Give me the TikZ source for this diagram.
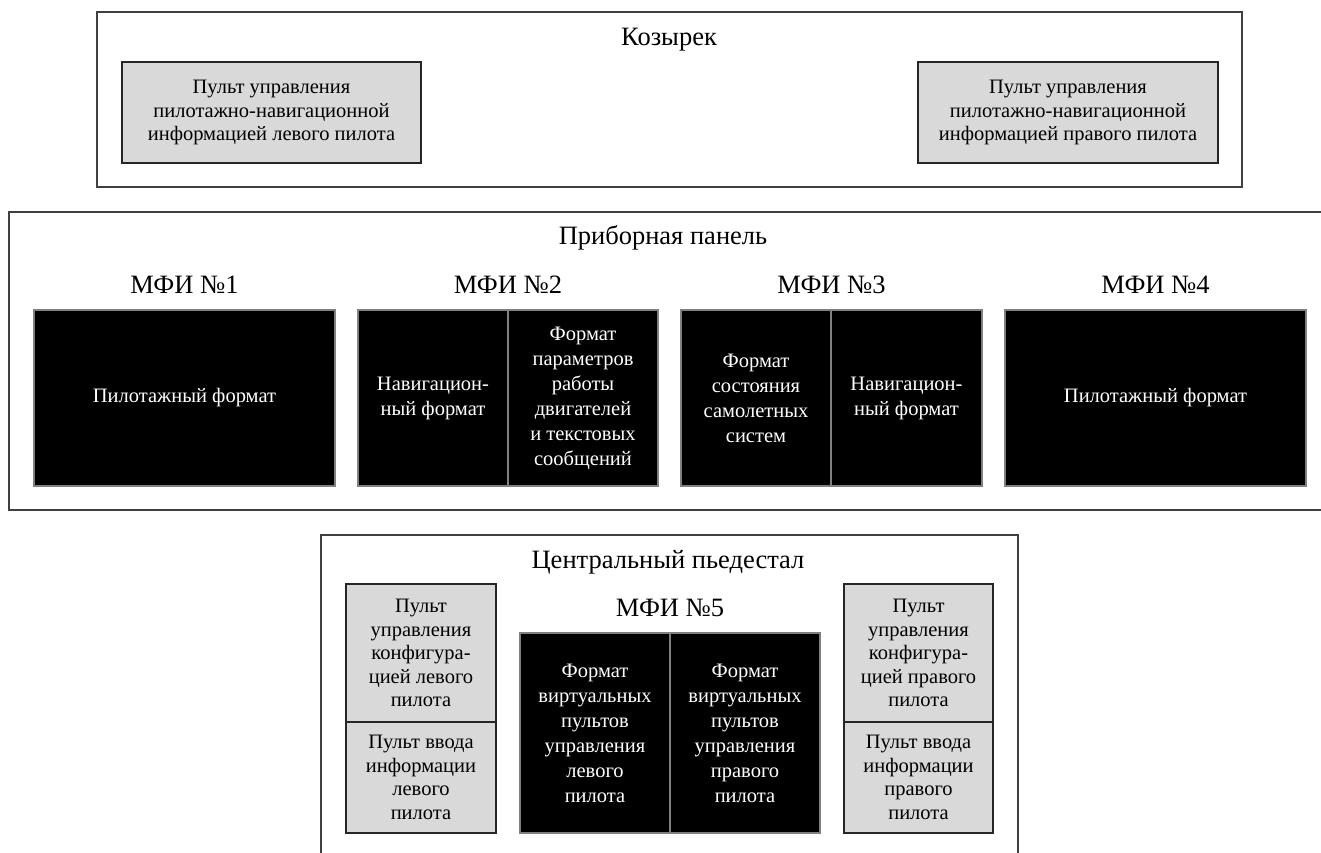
\documentclass[tikz,border=0pt]{standalone}
\usepackage{fontspec}
\setmainfont{Liberation Serif}
\begin{document}
\begin{tikzpicture}[x=1pt,y=-1pt,
  frame/.style={draw=black!75, line width=1.4pt, fill=white, inner sep=0pt, minimum width=#1},
  ctl/.style={draw=black!85, line width=1.3pt, fill=black!15, align=center, inner sep=0pt,
    font=\fontsize{20.5}{23.5}\selectfont},
  disp/.style={draw=black!50, line width=1.2pt, fill=black, text=white, align=center, inner sep=0pt,
    font=\fontsize{20.5}{25}\selectfont},
  title/.style={font=\fontsize{26.5}{30}\selectfont, inner sep=0pt},
  mfi/.style={font=\fontsize{26.5}{30}\selectfont, inner sep=0pt}
]
\useasboundingbox (0,0) rectangle (1321,852);
\clip (0,0) rectangle (1321,852);

% --- visor ---
\node[frame=1145pt, minimum height=175pt] (visor) at (669.5,99.5) {};
\node[title] (visorT) at (669,40) {Козырек};
\node[ctl, minimum width=299pt, minimum height=101pt] (pnL) at (271.5,112.5)
  {Пульт управления\\пилотажно-навигационной\\информацией левого пилота};
\node[ctl, minimum width=300pt, minimum height=101pt] (pnR) at (1068,112.5)
  {Пульт управления\\пилотажно-навигационной\\информацией правого пилота};

% --- instrument panel ---
\node[frame=1340pt, minimum height=298pt] (panel) at (679,361) {};
\node[title] (panelT) at (663,238) {Приборная панель};

\node[mfi] (m1T) at (184.5,285) {МФИ №1};
\node[mfi] (m2T) at (508,285) {МФИ №2};
\node[mfi] (m3T) at (831.5,285) {МФИ №3};
\node[mfi] (m4T) at (1155.5,285) {МФИ №4};

\node[disp, minimum width=301pt, minimum height=176pt] (m1) at (184.5,398) {Пилотажный формат};
\node[disp, minimum width=150pt, minimum height=176pt] (m2a) at (433,398) {Навигацион-\\ный формат};
\node[disp, minimum width=150pt, minimum height=176pt] (m2b) at (583,398)
  {Формат\\параметров\\работы\\двигателей\\и текстовых\\сообщений};
\node[disp, minimum width=150pt, minimum height=176pt] (m3a) at (756,398)
  {Формат\\состояния\\самолетных\\систем};
\node[disp, minimum width=151pt, minimum height=176pt] (m3b) at (906.5,398) {Навигацион-\\ный формат};
\node[disp, minimum width=301pt, minimum height=176pt] (m4) at (1155.5,398) {Пилотажный формат};

% --- central pedestal ---
\node[frame=697pt, minimum height=400pt] (ped) at (669.5,735) {};
\node[title] (pedT) at (668,562) {Центральный пьедестал};
\node[mfi] (m5T) at (670,608) {МФИ №5};

\node[ctl, minimum width=150pt, minimum height=138pt] (cfgL) at (421,653)
  {Пульт\\управления\\конфигура-\\цией левого\\пилота};
\node[ctl, minimum width=150pt, minimum height=111pt] (inL) at (421,777.5)
  {Пульт ввода\\информации\\левого\\пилота};
\node[disp, minimum width=150pt, minimum height=200pt] (m5a) at (595,733)
  {Формат\\виртуальных\\пультов\\управления\\левого\\пилота};
\node[disp, minimum width=150pt, minimum height=200pt] (m5b) at (745,733)
  {Формат\\виртуальных\\пультов\\управления\\правого\\пилота};
\node[ctl, minimum width=149pt, minimum height=138pt] (cfgR) at (918.5,653)
  {Пульт\\управления\\конфигура-\\цией правого\\пилота};
\node[ctl, minimum width=149pt, minimum height=111pt] (inR) at (918.5,777.5)
  {Пульт ввода\\информации\\правого\\пилота};
\end{tikzpicture}
\end{document}
